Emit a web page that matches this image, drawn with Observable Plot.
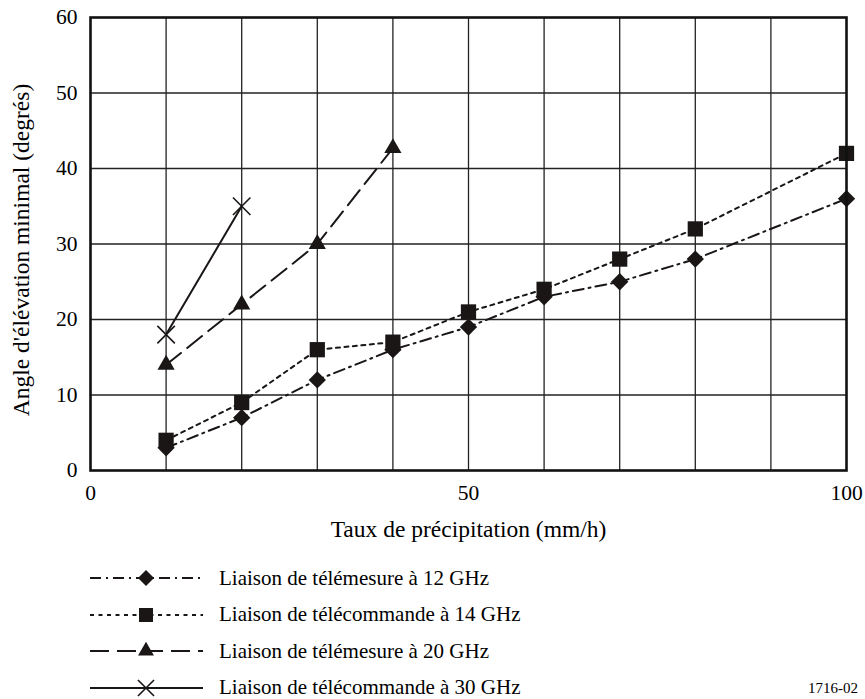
<!DOCTYPE html>
<html>
<head>
<meta charset="utf-8">
<script src="https://cdn.jsdelivr.net/npm/d3@7"></script>
<script src="https://cdn.jsdelivr.net/npm/@observablehq/plot@0.6"></script>
<style>
  html, body { margin: 0; padding: 0; background: #fff; }
  body { width: 865px; height: 699px; position: relative; overflow: hidden; font-family: "Liberation Serif", "Times New Roman", serif; }
  #legend { position: absolute; left: 90px; top: 560px; }
  .row { display: flex; align-items: center; height: 36.5px; }
  .row span { font-size: 21px; margin-left: 14px; color: #000; }
  #code { position: absolute; left: 808px; top: 680px; font-size: 15px; }
</style>
</head>
<body>
<div id="chart"></div>
<div id="legend"></div>
<div id="code">1716-02</div>
<script>
// Data
const seriesNames = [
  "Liaison de télémesure à 12 GHz",
  "Liaison de télécommande à 14 GHz",
  "Liaison de télémesure à 20 GHz",
  "Liaison de télécommande à 30 GHz"
];
const rates12 = [10, 20, 30, 40, 50, 60, 70, 80, 100];
const angles12 = [3, 7, 12, 16, 19, 23, 25, 28, 36];
const rates14 = [10, 20, 30, 40, 50, 60, 70, 80, 100];
const angles14 = [4, 9, 16, 17, 21, 24, 28, 32, 42];
const rates20 = [10, 20, 30, 40];
const angles20 = [14, 22, 30, 42.7];
const rates30 = [10, 20];
const angles30 = [18, 35];
const xTickLabels = [0, 50, 100];
const yTickLabels = [0, 10, 20, 30, 40, 50, 60];
const gridX = [10, 20, 30, 40, 50, 60, 70, 80, 90];
const gridY = [10, 20, 30, 40, 50];

const FONT = "'Liberation Serif', 'Times New Roman', serif";
const styles = [
  {dash: "11,5,2,5", symbol: "diamond2", r: 7.8, fill: "#1a1616", stroke: "none"},
  {dash: "4,4.5", symbol: "square", r: 8.6, fill: "#1a1616", stroke: "none"},
  {dash: "19,8", symbol: "triangle", r: 6.4, fill: "#1a1616", stroke: "none"},
  {dash: null, symbol: "times", r: 8, fill: "none", stroke: "#1a1616"}
];

const mk = (xs, ys, s) => xs.map((x, i) => ({x, y: ys[i], s}));
const series = [
  mk(rates12, angles12, 0),
  mk(rates14, angles14, 1),
  mk(rates20, angles20, 2),
  mk(rates30, angles30, 3)
];

const marks = [
  Plot.gridX(gridX, {stroke: "#222", strokeOpacity: 1, strokeWidth: 1.3}),
  Plot.gridY(gridY, {stroke: "#222", strokeOpacity: 1, strokeWidth: 1.3}),
  Plot.axisX(xTickLabels, {tickSize: 0, tickPadding: 14, fontSize: 21.5, fontFamily: FONT, label: null}),
  Plot.axisY(yTickLabels, {tickSize: 0, tickPadding: 13, fontSize: 21.5, fontFamily: FONT, label: null}),
];
series.forEach((d, i) => {
  const st = styles[i];
  marks.push(Plot.line(d, {x: "x", y: "y", stroke: "#1a1616", strokeWidth: 2, strokeDasharray: st.dash || undefined}));
});
series.forEach((d, i) => {
  const st = styles[i];
  marks.push(Plot.dot(d, {x: "x", y: "y", symbol: () => st.symbol, r: st.r, fill: st.fill, stroke: st.stroke, strokeWidth: st.stroke === "none" ? 0 : 1.6}));
});
marks.push(Plot.frame({stroke: "#111", strokeWidth: 2.6}));
marks.push(Plot.text(["Taux de précipitation (mm/h)"], {frameAnchor: "bottom", dy: 66, fontSize: 23.5, fontFamily: FONT, text: d => d}));
marks.push(Plot.text(["Angle d'élévation minimal (degrés)"], {frameAnchor: "left", dx: -69, dy: 6, rotate: -90, textAnchor: "middle", fontSize: 23.5, fontFamily: FONT, text: d => d}));

const chart = Plot.plot({
  width: 865,
  height: 555,
  marginLeft: 90,
  marginRight: 19,
  marginTop: 17,
  marginBottom: 85,
  style: {fontFamily: FONT, fontSize: "20px", color: "#000", background: "#fff", overflow: "visible"},
  x: {domain: [0, 100]},
  y: {domain: [0, 60]},
  marks
});
document.getElementById("chart").appendChild(chart);

// Legend
const legend = d3.select("#legend");
const symMap = {diamond2: d3.symbolDiamond2, square: d3.symbolSquare, triangle: d3.symbolTriangle, times: d3.symbolTimes};
seriesNames.forEach((name, i) => {
  const st = styles[i];
  const row = legend.append("div").attr("class", "row");
  const svg = row.append("svg").attr("width", 115).attr("height", 22);
  svg.append("line").attr("x1", 0).attr("x2", 113).attr("y1", 11).attr("y2", 11)
    .attr("stroke", "#1a1616").attr("stroke-width", 2)
    .attr("stroke-dasharray", st.dash || null);
  const size = st.r * st.r * Math.PI * 0.85;
  svg.append("path").attr("transform", "translate(56,11)")
    .attr("d", d3.symbol(symMap[st.symbol], size)())
    .attr("fill", st.fill).attr("stroke", st.stroke === "none" ? null : st.stroke)
    .attr("stroke-width", 1.6);
  row.append("span").text(name);
});
</script>
</body>
</html>
